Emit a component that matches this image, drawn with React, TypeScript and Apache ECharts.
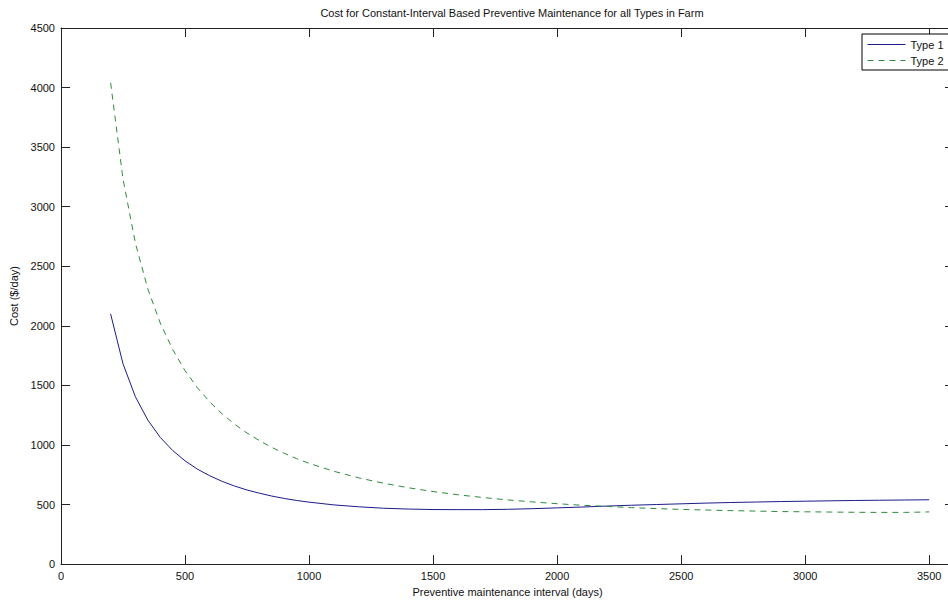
import React, { useEffect, useRef } from "react";
import * as echarts from "echarts";

const intervals = [200, 250, 300, 350, 400, 450, 500, 550, 600, 650, 700, 750, 800, 850, 900, 950, 1000,
  1100, 1200, 1300, 1400, 1500, 1600, 1700, 1800, 1900, 2000, 2100, 2200, 2300, 2400, 2500,
  2600, 2700, 2800, 2900, 3000, 3100, 3200, 3300, 3400, 3500];

const type1 = [2100, 1681, 1404, 1209, 1064, 954, 867, 797, 741, 694, 655, 622, 595, 571, 551, 534, 520,
  497, 481, 469, 462, 458, 457, 457, 460, 465, 472, 479, 487, 494, 500, 506,
  512, 517, 521, 525, 528, 531, 534, 536, 538, 540];

const type2 = [4040, 3231, 2694, 2310, 2024, 1802, 1624, 1480, 1361, 1260, 1174, 1100, 1036, 979, 930, 885, 846,
  779, 724, 679, 641, 609, 582, 559, 539, 522, 507, 494, 484, 474, 466, 459,
  454, 449, 445, 441, 439, 437, 435, 434, 434, 438];

const seriesNames = ["Type 1", "Type 2"];
const titleText = "Cost for Constant-Interval Based Preventive Maintenance for all Types in Farm";
const xName = "Preventive maintenance interval (days)";
const yName = "Cost ($/day)";

const FONT = "'Liberation Sans', Arial, sans-serif";

export default function App() {
  const ref = useRef<HTMLDivElement>(null);
  useEffect(() => {
    document.body.style.margin = "0";
    document.body.style.overflow = "hidden";
    const chart = echarts.init(ref.current!, undefined, { renderer: "svg" });
    const mkLine = () => ({ show: true, onZero: false, lineStyle: { color: "#222", width: 1 } });
    const mkTick = () => ({ show: true, inside: true, length: 9, lineStyle: { color: "#222" } });
    const plain = (v: number) => String(v);
    chart.setOption({
      animation: false,
      backgroundColor: "#fff",
      title: {
        text: titleText,
        left: 507,
        textAlign: "center",
        top: 2,
        textStyle: { fontFamily: FONT, fontSize: 11, fontWeight: "normal", color: "#111" },
      },
      legend: {
        left: 862,
        top: 34,
        orient: "vertical",
        itemWidth: 38,
        itemHeight: 12,
        itemGap: 5,
        padding: [5, 30, 4, 5],
        borderColor: "#000",
        borderWidth: 1,
        borderRadius: 0,
        backgroundColor: "#fff",
        itemStyle: { opacity: 0 },
        lineStyle: { width: 1 },
        textStyle: { fontFamily: FONT, fontSize: 11, color: "#111" },
        data: seriesNames,
      },
      grid: { left: 61, top: 28, bottom: 37, right: 6, containLabel: false },
      xAxis: [
        {
          type: "value",
          min: 0,
          max: 3600,
          interval: 500,
          position: "bottom",
          name: xName,
          nameLocation: "middle",
          nameGap: 20,
          nameTextStyle: { fontFamily: FONT, fontSize: 11, color: "#111" },
          axisLine: mkLine(),
          axisTick: mkTick(),
          splitLine: { show: false },
          axisLabel: { fontFamily: FONT, fontSize: 11, color: "#111", margin: 6, showMaxLabel: false, formatter: plain },
        },
        {
          type: "value",
          min: 0,
          max: 3600,
          interval: 500,
          position: "top",
          axisLine: mkLine(),
          axisTick: mkTick(),
          splitLine: { show: false },
          axisLabel: { show: false },
        },
      ],
      yAxis: [
        {
          type: "value",
          min: 0,
          max: 4500,
          interval: 500,
          position: "left",
          name: yName,
          nameLocation: "middle",
          nameGap: 40,
          nameTextStyle: { fontFamily: FONT, fontSize: 11, color: "#111" },
          axisLine: mkLine(),
          axisTick: mkTick(),
          splitLine: { show: false },
          axisLabel: { fontFamily: FONT, fontSize: 11, color: "#111", margin: 6, formatter: plain },
        },
        {
          type: "value",
          min: 0,
          max: 4500,
          interval: 500,
          position: "right",
          axisLine: mkLine(),
          axisTick: mkTick(),
          splitLine: { show: false },
          axisLabel: { show: false },
        },
      ],
      series: [
        {
          name: seriesNames[0],
          type: "line",
          symbol: "none",
          data: intervals.map((x, i) => [x, type1[i]]),
          lineStyle: { color: "#1c1c8a", width: 1 },
          itemStyle: { color: "#1c1c8a" },
        },
        {
          name: seriesNames[1],
          type: "line",
          symbol: "none",
          data: intervals.map((x, i) => [x, type2[i]]),
          lineStyle: { color: "#2e8b3a", width: 1, type: [6, 5] },
          itemStyle: { color: "#2e8b3a" },
        },
      ],
    });
    return () => chart.dispose();
  }, []);
  return <div ref={ref} style={{ position: "fixed", left: 0, top: 0, width: 960, height: 602 }} />;
}
